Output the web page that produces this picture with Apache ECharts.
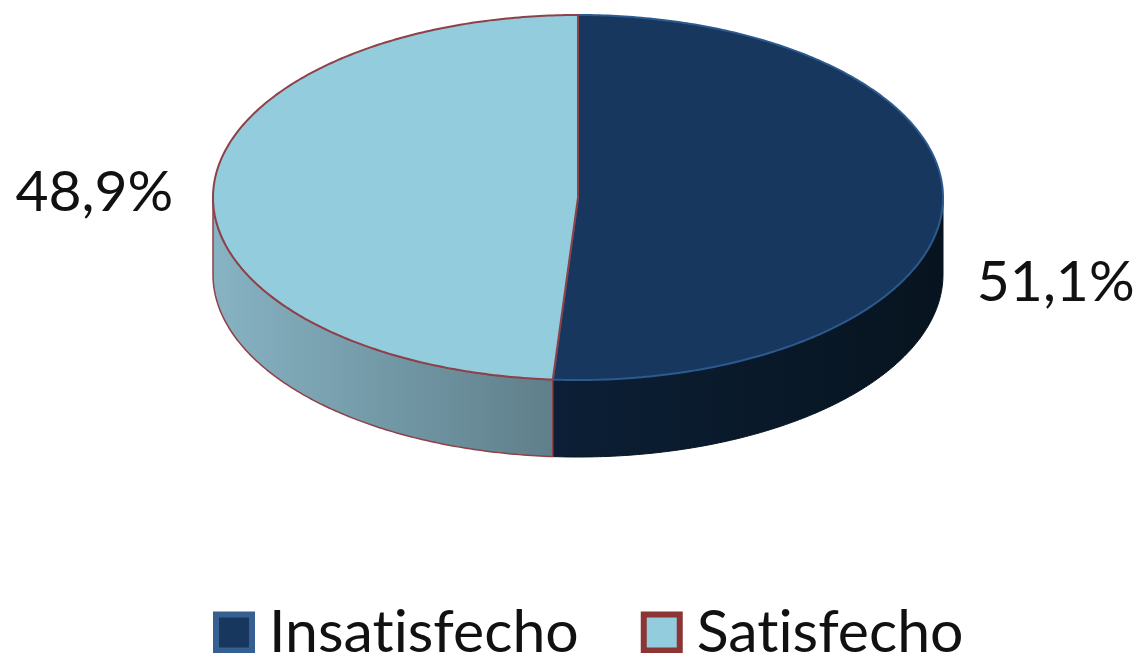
<!DOCTYPE html>
<html><head><meta charset="utf-8">
<style>html,body{margin:0;padding:0;background:#fff}#c{width:1139px;height:653px}</style>
<script src="https://cdn.jsdelivr.net/npm/echarts@6/dist/echarts.min.js"></script>
</head><body><div id="c"></div>
<script>
const categories = ['Insatisfecho', 'Satisfecho'];
const values = [51.1, 48.9];
const labels = ['51,1%', '48,9%'];

const topColors = ['#17375e', '#93cddd'];
const edgeColors = ['#2c5a8f', '#8f4048'];
const wallStops = [['#0c1f36', '#07141f'], ['#87b3c3', '#5f7f8a']];
const legendBorders = ['#376092', '#8b3535'];
const labelOffsets = [[34, 79], [-40, 1]];
const geo = { cx: 578, cy: 197.5, rx: 365, ry: 182.5, depth: 77 };
const FONT = 'Lato';

// Plain letter shapes: the reference has no "ti" ligature.
const nativeGetContext = HTMLCanvasElement.prototype.getContext;
HTMLCanvasElement.prototype.getContext = function () {
  const ctx = nativeGetContext.apply(this, arguments);
  if (ctx && 'textRendering' in ctx) ctx.textRendering = 'optimizeSpeed';
  return ctx;
};

const total = values.reduce((a, b) => a + b, 0);
const pt = (deg, dy) => {
  const r = deg * Math.PI / 180;
  return [geo.cx + geo.rx * Math.sin(r), geo.cy - geo.ry * Math.cos(r) + (dy || 0)];
};
const arc = (a, b, dy) => {
  const n = Math.max(2, Math.ceil(Math.abs(b - a) * 1.5));
  const out = [];
  for (let i = 0; i <= n; i++) out.push(pt(a + (b - a) * i / n, dy));
  return out;
};
const startOf = i => values.slice(0, i).reduce((a, b) => a + b, 0) / total * 360;

function renderSlice(i) {
  return function () {
    const a = startOf(i), b = startOf(i + 1), mid = (a + b) / 2;
    const children = [];
    const w0 = Math.max(a, 90), w1 = Math.min(b, 270);
    if (w1 > w0) {
      children.push({
        type: 'polygon',
        shape: { points: arc(w0, w1, 0).concat(arc(w1, w0, geo.depth)) },
        style: {
          fill: new echarts.graphic.LinearGradient(0, 0, 1, 0, [
            { offset: 0, color: wallStops[i][0] }, { offset: 1, color: wallStops[i][1] }
          ]),
          stroke: i === 1 ? edgeColors[i] : wallStops[i][1],
          lineWidth: i === 1 ? 1.5 : 1
        }
      });
    }
    children.push({
      type: 'polygon',
      shape: { points: [[geo.cx, geo.cy]].concat(arc(a, b, 0)) },
      style: { fill: topColors[i], stroke: edgeColors[i], lineWidth: 2, lineJoin: 'round' }
    });
    const p = pt(mid, 0);
    children.push({
      type: 'text',
      x: p[0] + labelOffsets[i][0],
      y: p[1] + labelOffsets[i][1],
      style: {
        text: labels[i], fill: '#111', font: '57px ' + FONT,
        align: labelOffsets[i][0] > 0 ? 'left' : 'right', verticalAlign: 'middle'
      }
    });
    return { type: 'group', children };
  };
}

const chart = echarts.init(document.getElementById('c'), null, { renderer: 'canvas' });
chart.setOption({
  animation: false,
  backgroundColor: '#fff',
  legend: {
    left: 213, top: 603, itemWidth: 36, itemHeight: 36, itemGap: 62, padding: 0,
    selectedMode: false,
    textStyle: { fontFamily: FONT, fontSize: 59, color: '#111', padding: [0, 0, 0, 12] },
    data: categories.map((name, i) => ({
      name, icon: 'rect',
      itemStyle: { color: topColors[i], borderColor: legendBorders[i], borderWidth: 6 }
    }))
  },
  series: categories.map((name, i) => ({
    type: 'custom', name, coordinateSystem: 'none', silent: true, z: 2 + i,
    itemStyle: { color: topColors[i] },
    data: [values[i]],
    renderItem: renderSlice(i)
  }))
});
</script></body></html>
